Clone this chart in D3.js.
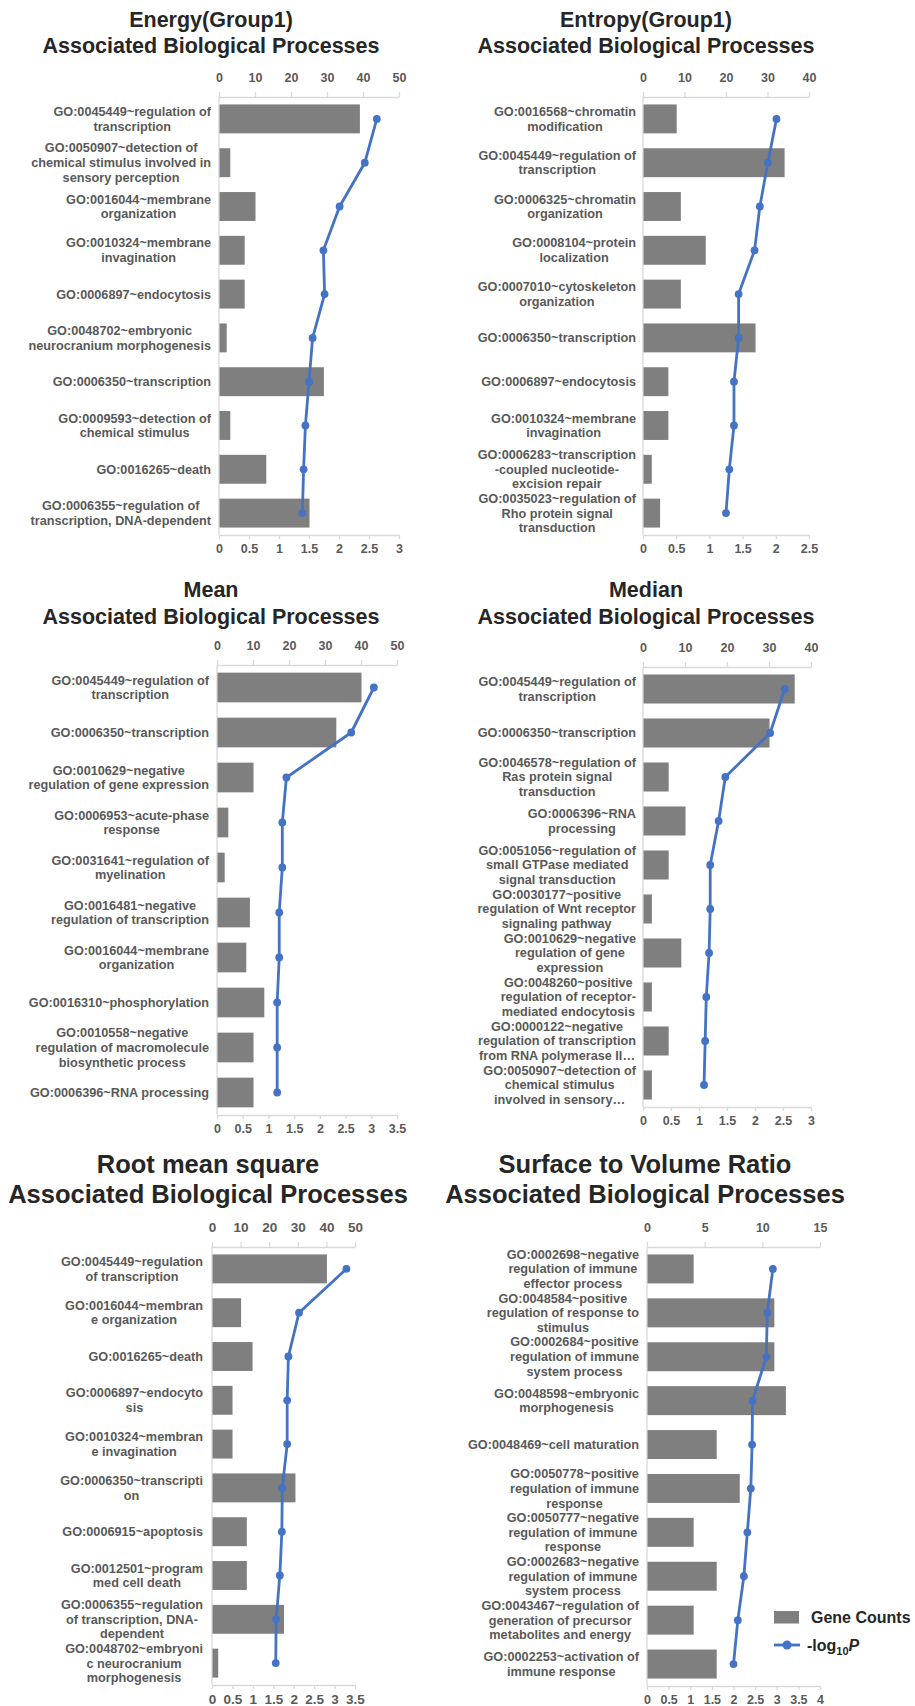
<!DOCTYPE html>
<html>
<head>
<meta charset="utf-8">
<script src="https://cdn.jsdelivr.net/npm/d3@7"></script>
<style>
  body { margin: 0; background: #fff; }
  svg { display: block; }
  text { font-family: "Liberation Sans", Arial, sans-serif; }
</style>
</head>
<body>
<svg id="chart" width="915" height="1706"></svg>
<script>
"use strict";

// ---- data ----

// Energy(Group1)
const energyTerms = [
  "GO:0045449~regulation of\ntranscription",
  "GO:0050907~detection of\nchemical stimulus involved in\nsensory perception",
  "GO:0016044~membrane\norganization",
  "GO:0010324~membrane\ninvagination",
  "GO:0006897~endocytosis",
  "GO:0048702~embryonic\nneurocranium morphogenesis",
  "GO:0006350~transcription",
  "GO:0009593~detection of\nchemical stimulus",
  "GO:0016265~death",
  "GO:0006355~regulation of\ntranscription, DNA-dependent"
];
const energyCounts = [39, 3, 10, 7, 7, 2, 29, 3, 13, 25];
const energyLogP   = [2.63, 2.43, 2.01, 1.74, 1.76, 1.56, 1.50, 1.44, 1.41, 1.39];

// Entropy(Group1)
const entropyTerms = [
  "GO:0016568~chromatin\nmodification",
  "GO:0045449~regulation of\ntranscription",
  "GO:0006325~chromatin\norganization",
  "GO:0008104~protein\nlocalization",
  "GO:0007010~cytoskeleton\norganization",
  "GO:0006350~transcription",
  "GO:0006897~endocytosis",
  "GO:0010324~membrane\ninvagination",
  "GO:0006283~transcription\n-coupled nucleotide-\nexcision repair",
  "GO:0035023~regulation of\nRho protein signal\ntransduction"
];
const entropyCounts = [8, 34, 9, 15, 9, 27, 6, 6, 2, 4];
const entropyLogP   = [2.01, 1.88, 1.76, 1.68, 1.44, 1.44, 1.37, 1.37, 1.30, 1.25];

// Mean
const meanTerms = [
  "GO:0045449~regulation of\ntranscription",
  "GO:0006350~transcription",
  "GO:0010629~negative\nregulation of gene expression",
  "GO:0006953~acute-phase\nresponse",
  "GO:0031641~regulation of\nmyelination",
  "GO:0016481~negative\nregulation of transcription",
  "GO:0016044~membrane\norganization",
  "GO:0016310~phosphorylation",
  "GO:0010558~negative\nregulation of macromolecule\nbiosynthetic process",
  "GO:0006396~RNA processing"
];
const meanCounts = [40, 33, 10, 3, 2, 9, 8, 13, 10, 10];
const meanLogP   = [3.05, 2.61, 1.35, 1.27, 1.27, 1.21, 1.21, 1.17, 1.17, 1.17];

// Median
const medianTerms = [
  "GO:0045449~regulation of\ntranscription",
  "GO:0006350~transcription",
  "GO:0046578~regulation of\nRas protein signal\ntransduction",
  "GO:0006396~RNA\nprocessing",
  "GO:0051056~regulation of\nsmall GTPase mediated\nsignal transduction",
  "GO:0030177~positive\nregulation of Wnt receptor\nsignaling pathway",
  "GO:0010629~negative\nregulation of gene\nexpression",
  "GO:0048260~positive\nregulation of receptor-\nmediated endocytosis",
  "GO:0000122~negative\nregulation of transcription\nfrom RNA polymerase II…",
  "GO:0050907~detection of\nchemical stimulus\ninvolved in sensory…"
];
const medianCounts = [36, 30, 6, 10, 6, 2, 9, 2, 6, 2];
const medianLogP   = [2.53, 2.27, 1.47, 1.35, 1.20, 1.20, 1.18, 1.13, 1.11, 1.09];

// Root mean square
const rmsTerms = [
  "GO:0045449~regulation\nof transcription",
  "GO:0016044~membran\ne organization",
  "GO:0016265~death",
  "GO:0006897~endocyto\nsis",
  "GO:0010324~membran\ne invagination",
  "GO:0006350~transcripti\non",
  "GO:0006915~apoptosis",
  "GO:0012501~program\nmed cell death",
  "GO:0006355~regulation\nof transcription, DNA-\ndependent",
  "GO:0048702~embryoni\nc neurocranium\nmorphogenesis"
];
const rmsCounts = [40, 10, 14, 7, 7, 29, 12, 12, 25, 2];
const rmsLogP   = [3.29, 2.13, 1.87, 1.84, 1.84, 1.72, 1.71, 1.66, 1.57, 1.56];

// Surface to Volume Ratio
const svrTerms = [
  "GO:0002698~negative\nregulation of immune\neffector process",
  "GO:0048584~positive\nregulation of response to\nstimulus",
  "GO:0002684~positive\nregulation of immune\nsystem process",
  "GO:0048598~embryonic\nmorphogenesis",
  "GO:0048469~cell maturation",
  "GO:0050778~positive\nregulation of immune\nresponse",
  "GO:0050777~negative\nregulation of immune\nresponse",
  "GO:0002683~negative\nregulation of immune\nsystem process",
  "GO:0043467~regulation of\ngeneration of precursor\nmetabolites and energy",
  "GO:0002253~activation of\nimmune response"
];
const svrCounts = [4, 11, 11, 12, 6, 8, 4, 6, 4, 6];
const svrLogP   = [2.91, 2.78, 2.76, 2.44, 2.43, 2.40, 2.32, 2.24, 2.10, 2.00];

// tick labels
const countTicks50 = [0, 10, 20, 30, 40, 50];
const countTicks40 = [0, 10, 20, 30, 40];
const countTicks15 = [0, 5, 10, 15];
const logTicks25 = [0, 0.5, 1, 1.5, 2, 2.5];
const logTicks3  = [0, 0.5, 1, 1.5, 2, 2.5, 3];
const logTicks35 = [0, 0.5, 1, 1.5, 2, 2.5, 3, 3.5];
const logTicks4  = [0, 0.5, 1, 1.5, 2, 2.5, 3, 3.5, 4];

// ---- layout ----
const panels = [
  { title: ["Energy(Group1)", "Associated Biological Processes"],
    terms: energyTerms, counts: energyCounts, logp: energyLogP,
    cTicks: countTicks50, lTicks: logTicks3,
    x0: 219, x1: 399, y0: 97, y1: 535, labelRight: 211,
    titleX: 211, titleY: [27, 53], titleSize: 21.5, tickFont: 12.5 },
  { title: ["Entropy(Group1)", "Associated Biological Processes"],
    terms: entropyTerms, counts: entropyCounts, logp: entropyLogP,
    cTicks: countTicks40, lTicks: logTicks25,
    x0: 643, x1: 809, y0: 97, y1: 535, labelRight: 636,
    titleX: 646, titleY: [27, 53], titleSize: 21.5, tickFont: 12.5 },
  { title: ["Mean", "Associated Biological Processes"],
    terms: meanTerms, counts: meanCounts, logp: meanLogP,
    cTicks: countTicks50, lTicks: logTicks35,
    x0: 217, x1: 397, y0: 665, y1: 1115, labelRight: 209,
    titleX: 211, titleY: [597, 624], titleSize: 21.5, tickFont: 12.5 },
  { title: ["Median", "Associated Biological Processes"],
    terms: medianTerms, counts: medianCounts, logp: medianLogP,
    cTicks: countTicks40, lTicks: logTicks3,
    x0: 643, x1: 811, y0: 667, y1: 1107, labelRight: 636,
    titleX: 646, titleY: [597, 624], titleSize: 21.5, tickFont: 12.5 },
  { title: ["Root mean square", "Associated Biological Processes"],
    terms: rmsTerms, counts: rmsCounts, logp: rmsLogP,
    cTicks: countTicks50, lTicks: logTicks35,
    x0: 212, x1: 355, y0: 1247, y1: 1685, labelRight: 203,
    titleX: 208, titleY: [1173, 1203], titleSize: 25.5, tickFont: 13.5 },
  { title: ["Surface to Volume Ratio", "Associated Biological Processes"],
    terms: svrTerms, counts: svrCounts, logp: svrLogP,
    cTicks: countTicks15, lTicks: logTicks4,
    x0: 647, x1: 820, y0: 1247, y1: 1686, labelRight: 639,
    titleX: 645, titleY: [1173, 1203], titleSize: 25.5, tickFont: 12.5 }
];

const barColor  = "#7f7f7f",
      lineColor = "#4472c4",
      axisColor = "#d9d9d9",
      textColor = "#595959";

const svg = d3.select("#chart");
const fmt = d3.format("~g");

panels.forEach(function (p) {

  const g = svg.append("g");

  // scales
  const y = d3.scaleBand()
    .domain(d3.range(p.terms.length))
    .range([p.y0, p.y1])
    .paddingInner(0.34)
    .paddingOuter(0.17);
  const xc = d3.scaleLinear().domain([0, d3.max(p.cTicks)]).range([p.x0, p.x1]);
  const xl = d3.scaleLinear().domain([0, d3.max(p.lTicks)]).range([p.x0, p.x1]);
  const bw = y.bandwidth();

  // title
  g.append("text")
    .attr("x", p.titleX)
    .attr("text-anchor", "middle")
    .attr("fill", "#262626")
    .style("font-weight", "bold")
    .style("font-size", p.titleSize + "px")
    .selectAll("tspan")
    .data(p.title)
    .enter().append("tspan")
      .attr("x", p.titleX)
      .attr("y", (d, i) => p.titleY[i])
      .text(d => d);

  // top axis (gene counts)
  const top = g.append("g")
    .attr("transform", "translate(0," + p.y0 + ")")
    .call(d3.axisTop(xc).tickValues(p.cTicks).tickFormat(fmt)
      .tickSize(5).tickSizeOuter(0).tickPadding(10));

  // bottom axis (-log10 P)
  const bottom = g.append("g")
    .attr("transform", "translate(0," + p.y1 + ")")
    .call(d3.axisBottom(xl).tickValues(p.lTicks).tickFormat(fmt)
      .tickSize(4).tickSizeOuter(0).tickPadding(5));

  [top, bottom].forEach(function (ax) {
    ax.select(".domain").attr("stroke", axisColor).attr("stroke-width", 1.3);
    ax.selectAll(".tick line").attr("stroke", axisColor).attr("stroke-width", 1.3);
    ax.selectAll(".tick text")
      .attr("fill", textColor)
      .style("font-family", '"Liberation Sans", Arial, sans-serif')
      .style("font-weight", "bold")
      .style("font-size", p.tickFont + "px");
  });

  // category axis line
  g.append("line")
    .attr("x1", p.x0).attr("x2", p.x0)
    .attr("y1", p.y0).attr("y2", p.y1)
    .attr("stroke", axisColor)
    .attr("stroke-width", 1.3);

  // bars
  g.selectAll(".bar")
    .data(p.counts)
    .enter().append("rect")
      .attr("class", "bar")
      .attr("x", p.x0 + 0.5)
      .attr("y", (d, i) => y(i))
      .attr("width", d => xc(d) - p.x0)
      .attr("height", bw)
      .attr("fill", barColor);

  // -log10 P line
  const line = d3.line()
    .x(d => xl(d))
    .y((d, i) => y(i) + bw / 2);

  g.append("path")
    .datum(p.logp)
    .attr("d", line)
    .attr("fill", "none")
    .attr("stroke", lineColor)
    .attr("stroke-width", 2.8)
    .attr("stroke-linejoin", "round");

  g.selectAll(".dot")
    .data(p.logp)
    .enter().append("circle")
      .attr("class", "dot")
      .attr("cx", d => xl(d))
      .attr("cy", (d, i) => y(i) + bw / 2)
      .attr("r", 3.9)
      .attr("fill", lineColor);

  // category labels, lines centred within a right-aligned block
  const lh = 14.7;
  p.terms.forEach(function (term, i) {
    const lines = term.split("\n");
    const cy = y(i) + bw / 2;
    const t = g.append("text")
      .attr("text-anchor", "middle")
      .attr("fill", textColor)
      .style("font-weight", "bold")
      .style("font-size", "12.7px");
    const spans = t.selectAll("tspan")
      .data(lines)
      .enter().append("tspan")
        .attr("y", (d, k) => cy + (k - (lines.length - 1) / 2) * lh)
        .attr("dy", "0.35em")
        .text(d => d);
    let maxW = 0;
    spans.each(function () { maxW = Math.max(maxW, this.getComputedTextLength()); });
    spans.attr("x", p.labelRight - maxW / 2);
  });
});

// legend
const leg = svg.append("g");
leg.append("rect")
  .attr("x", 774).attr("y", 1611)
  .attr("width", 25).attr("height", 12.5)
  .attr("fill", barColor);
leg.append("text")
  .attr("x", 811).attr("y", 1623)
  .attr("fill", "#262626")
  .style("font-weight", "bold")
  .style("font-size", "16px")
  .text("Gene Counts");
leg.append("line")
  .attr("x1", 774).attr("x2", 800)
  .attr("y1", 1645).attr("y2", 1645)
  .attr("stroke", lineColor)
  .attr("stroke-width", 2.8);
leg.append("circle")
  .attr("cx", 787).attr("cy", 1645)
  .attr("r", 4.5)
  .attr("fill", lineColor);
const lt = leg.append("text")
  .attr("x", 807).attr("y", 1651)
  .attr("fill", "#262626")
  .style("font-weight", "bold")
  .style("font-size", "16px");
lt.append("tspan").text("-log");
lt.append("tspan").attr("dy", 4).style("font-size", "11px").text("10");
lt.append("tspan").attr("dy", -4).style("font-style", "italic").text("P");
</script>
</body>
</html>
